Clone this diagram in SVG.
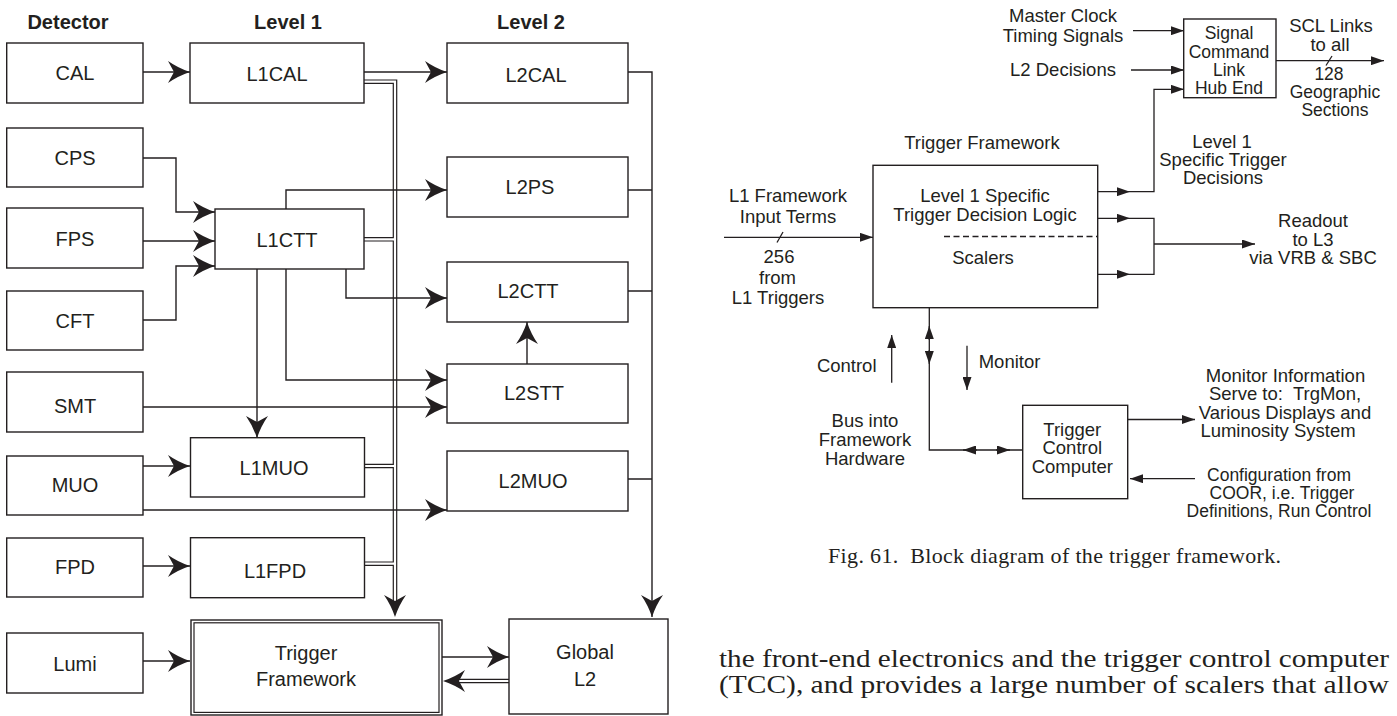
<svg xmlns="http://www.w3.org/2000/svg" width="1397" height="716" viewBox="0 0 1397 716">
<defs>
<style>
.bx{fill:#fff;stroke:#231f20;stroke-width:1.4}
.ln{fill:none;stroke:#231f20;stroke-width:1.4}
.lnr{fill:none;stroke:#231f20;stroke-width:1.3}
.pb{fill:none;stroke:#231f20;stroke-width:4.6}
.pw{fill:none;stroke:#fff;stroke-width:2.2}
.big{marker-end:url(#big)}
.sm{marker-end:url(#sm)}
.t{font-family:"Liberation Sans",Arial,Helvetica,sans-serif;font-size:20px;fill:#231f20;text-anchor:middle}
.h{font-family:"Liberation Sans",Arial,Helvetica,sans-serif;font-size:20px;font-weight:bold;fill:#231f20;text-anchor:middle}
.r{font-family:"Liberation Sans",Arial,Helvetica,sans-serif;font-size:18.5px;fill:#231f20;text-anchor:middle}
.rs{font-family:"Liberation Sans",Arial,Helvetica,sans-serif;font-size:17.5px;fill:#231f20;text-anchor:middle}
.s{font-family:"Liberation Serif","Times New Roman",serif;fill:#231f20}
</style>
<marker id="big" markerUnits="userSpaceOnUse" viewBox="0 0 22 22" refX="22" refY="11" markerWidth="22" markerHeight="22" orient="auto">
<path d="M22,11 Q10,7 0,0 L6,11 L0,22 Q10,15 22,11 Z" fill="#231f20"/>
</marker>
<marker id="sm" markerUnits="userSpaceOnUse" viewBox="0 0 13 9" refX="13" refY="4.5" markerWidth="13" markerHeight="9" orient="auto">
<path d="M0,0 L13,4.5 L0,9 Z" fill="#231f20"/>
</marker>
</defs>
<rect width="1397" height="716" fill="#fff"/>

<g id="connectors">
<path class="pb" d="M364,81.7 H395 V606 M364,239.3 H395 M365,466 H395 M365,563.7 H395 M509,681 H458"/>
<path class="pw" d="M364,81.7 H395 V606 M364,239.3 H395 M365,466 H395 M365,563.7 H395 M509,681 H458"/>
<path d="M395,617 Q391,605 384,595 L395,601 L406,595 Q399,605 395,617 Z" fill="#231f20"/>
<path d="M443,681 Q455,677 465,670 L459,681 L465,692 Q455,685 443,681 Z" fill="#231f20"/>
<path class="ln big" d="M143,72 H190"/>
<path class="ln big" d="M364,72 H447"/>
<path class="ln big" d="M628,72 H652 V617"/>
<path class="ln" d="M628,190 H652 M628,291 H652 M628,479 H652"/>
<path class="ln big" d="M143,158 H176 V212 H215"/>
<path class="ln big" d="M143,241 H215"/>
<path class="ln big" d="M143,320 H176 V266 H215"/>
<path class="ln big" d="M286,209 V190 H447"/>
<path class="ln big" d="M346,269 V298 H447"/>
<path class="ln big" d="M286,269 V380 H447"/>
<path class="ln big" d="M257,269 V438"/>
<path class="ln big" d="M143,407 H447"/>
<path class="ln big" d="M527,364 V322"/>
<path class="ln big" d="M143,466 H190"/>
<path class="ln big" d="M143,510 H447"/>
<path class="ln big" d="M143,566 H190"/>
<path class="ln big" d="M143,661 H190"/>
<path class="ln big" d="M442,657 H509"/>

<path class="lnr sm" d="M724,237.3 H873"/>
<path class="lnr" d="M777,242.5 L783,232"/>
<path class="lnr sm" d="M1133,30.7 H1184"/>
<path class="lnr sm" d="M1131,70 H1184"/>
<path class="lnr sm" d="M1097.7,191.7 H1130"/>
<path class="lnr sm" d="M1130,191.7 H1154 V89.3 H1184"/>
<path class="lnr sm" d="M1097.7,218.3 H1130"/>
<path class="lnr sm" d="M1097.7,274.3 H1130"/>
<path class="lnr" d="M1130,218.3 H1154 V274.3 H1130"/>
<path class="lnr sm" d="M1154,244 H1255"/>
<path class="lnr sm" d="M1276,60.7 H1384"/>
<path class="lnr" d="M1326,65.5 L1332,56"/>
<path class="lnr" d="M929.3,307.7 V450 H1022.7"/>
<path class="lnr sm" d="M929.3,340 V326"/>
<path class="lnr sm" d="M929.3,350 V364"/>
<path class="lnr sm" d="M977,450 H963"/>
<path class="lnr sm" d="M996,450 H1010"/>
<path class="lnr sm" d="M891.7,382.7 V335"/>
<path class="lnr sm" d="M967,345.7 V390"/>
<path class="lnr sm" d="M1127.7,419.5 H1195"/>
<path class="lnr sm" d="M1195,478.7 H1130"/>
</g>

<g id="headers">
<text class="h" x="68" y="29">Detector</text>
<text class="h" x="288" y="29">Level 1</text>
<text class="h" x="531" y="29">Level 2</text>
</g>

<g id="CAL"><rect class="bx" x="6.7" y="43" width="136.3" height="60"/><text class="t" x="75" y="80">CAL</text></g>
<g id="CPS"><rect class="bx" x="6.7" y="128" width="136.3" height="59"/><text class="t" x="75" y="165">CPS</text></g>
<g id="FPS"><rect class="bx" x="6.7" y="208" width="136.3" height="60"/><text class="t" x="75" y="246">FPS</text></g>
<g id="CFT"><rect class="bx" x="6.7" y="291" width="136.3" height="59"/><text class="t" x="75" y="327.5">CFT</text></g>
<g id="SMT"><rect class="bx" x="6.7" y="372" width="136.3" height="60"/><text class="t" x="75" y="413">SMT</text></g>
<g id="MUO"><rect class="bx" x="6.7" y="456" width="136.3" height="59"/><text class="t" x="75" y="492">MUO</text></g>
<g id="FPD"><rect class="bx" x="6.7" y="538" width="136.3" height="59"/><text class="t" x="75" y="574">FPD</text></g>
<g id="Lumi"><rect class="bx" x="6.7" y="633" width="136.3" height="60"/><text class="t" x="75" y="671">Lumi</text></g>

<g id="L1CAL"><rect class="bx" x="190" y="43" width="174" height="60"/><text class="t" x="277" y="81">L1CAL</text></g>
<g id="L1CTT"><rect class="bx" x="215" y="209" width="149" height="60"/><text class="t" x="287" y="247">L1CTT</text></g>
<g id="L1MUO"><rect class="bx" x="190.5" y="437.7" width="174" height="59.3"/><text class="t" x="274" y="475">L1MUO</text></g>
<g id="L1FPD"><rect class="bx" x="190.5" y="537.7" width="174" height="60"/><text class="t" x="275" y="578">L1FPD</text></g>
<g id="TriggerFramework">
<rect class="bx" x="191" y="620" width="251" height="95"/>
<rect fill="none" stroke="#231f20" stroke-width="1.2" x="194" y="622.8" width="245" height="89.6"/>
<text class="t" x="306" y="660">Trigger</text>
<text class="t" x="306" y="686">Framework</text>
</g>

<g id="L2CAL"><rect class="bx" x="447" y="43" width="181" height="60"/><text class="t" x="536" y="82">L2CAL</text></g>
<g id="L2PS"><rect class="bx" x="447" y="157" width="181" height="60"/><text class="t" x="530" y="194">L2PS</text></g>
<g id="L2CTT"><rect class="bx" x="447" y="262" width="181" height="60"/><text class="t" x="528" y="298">L2CTT</text></g>
<g id="L2STT"><rect class="bx" x="447" y="364" width="181" height="59"/><text class="t" x="534" y="400">L2STT</text></g>
<g id="L2MUO"><rect class="bx" x="447" y="451" width="181" height="60"/><text class="t" x="533" y="488">L2MUO</text></g>
<g id="GlobalL2"><rect class="bx" x="509" y="619" width="159" height="95"/>
<text class="t" x="585" y="659">Global</text><text class="t" x="585" y="686">L2</text></g>

<g id="TF2">
<rect class="bx" x="873" y="165.3" width="224.7" height="142.4" stroke-width="1.3"/>
<text class="r" x="985" y="202.3">Level 1 Specific</text>
<text class="r" x="985" y="220.7">Trigger Decision Logic</text>
<path d="M944,236.5 H1097.7" fill="none" stroke="#231f20" stroke-width="1.3" stroke-dasharray="6,3.5"/>
<text class="r" x="983" y="264.3">Scalers</text>
</g>
<g id="SCL">
<rect class="bx" x="1183.7" y="19" width="92.3" height="78.7" stroke-width="1.3"/>
<text class="rs" x="1229" y="39">Signal</text>
<text class="rs" x="1229" y="58">Command</text>
<text class="rs" x="1229" y="76">Link</text>
<text class="rs" x="1229" y="94.3">Hub End</text>
</g>
<g id="TCC">
<rect class="bx" x="1022.7" y="405.3" width="105" height="93.4" stroke-width="1.3"/>
<text class="r" x="1072.3" y="436">Trigger</text>
<text class="r" x="1072.3" y="454.3">Control</text>
<text class="r" x="1072.3" y="472.7">Computer</text>
</g>
<g id="labels">
<text class="r" x="982" y="149">Trigger Framework</text>
<text class="r" x="1063" y="21.7">Master Clock</text>
<text class="r" x="1063" y="42.3">Timing Signals</text>
<text class="r" x="1063" y="76">L2 Decisions</text>
<text class="r" x="1331" y="31.7">SCL Links</text>
<text class="r" x="1330" y="50.7">to all</text>
<text class="rs" x="1329" y="79.5">128</text>
<text class="rs" x="1335" y="97.5">Geographic</text>
<text class="rs" x="1335" y="116">Sections</text>
<text class="r" x="1222" y="147.7">Level 1</text>
<text class="r" x="1223" y="166">Specific Trigger</text>
<text class="r" x="1223" y="184.3">Decisions</text>
<text class="r" x="788" y="202.3">L1 Framework</text>
<text class="r" x="788" y="222.7">Input Terms</text>
<text class="r" x="779" y="263.3">256</text>
<text class="r" x="777.5" y="284">from</text>
<text class="r" x="778" y="304.3">L1 Triggers</text>
<text class="r" x="1313" y="226.7">Readout</text>
<text class="r" x="1313" y="246">to L3</text>
<text class="r" x="1313" y="264.3">via VRB &amp; SBC</text>
<text class="r" x="846.7" y="371.7">Control</text>
<text class="r" x="978.7" y="367.7" style="text-anchor:start">Monitor</text>
<text class="r" x="865" y="426.7">Bus into</text>
<text class="r" x="865" y="446">Framework</text>
<text class="r" x="865" y="465.3">Hardware</text>
<text class="r" x="1285.5" y="381.7">Monitor Information</text>
<text class="r" x="1285" y="400" xml:space="preserve">Serve to:  TrgMon,</text>
<text class="r" x="1285" y="419">Various Displays and</text>
<text class="r" x="1278" y="437.3">Luminosity System</text>
<text class="rs" x="1279" y="481">Configuration from</text>
<text class="rs" x="1282" y="499.3">COOR, i.e. Trigger</text>
<text class="rs" x="1279" y="517.3">Definitions, Run Control</text>
</g>
<g id="caption">
<text class="s" x="828" y="563" font-size="22" textLength="453" lengthAdjust="spacing" xml:space="preserve">Fig. 61.  Block diagram of the trigger framework.</text>
<text class="s" x="719" y="667" font-size="25" textLength="670" lengthAdjust="spacingAndGlyphs">the front-end electronics and the trigger control computer</text>
<text class="s" x="719" y="693" font-size="25" textLength="670" lengthAdjust="spacingAndGlyphs">(TCC), and provides a large number of scalers that allow</text>
</g>
</svg>
